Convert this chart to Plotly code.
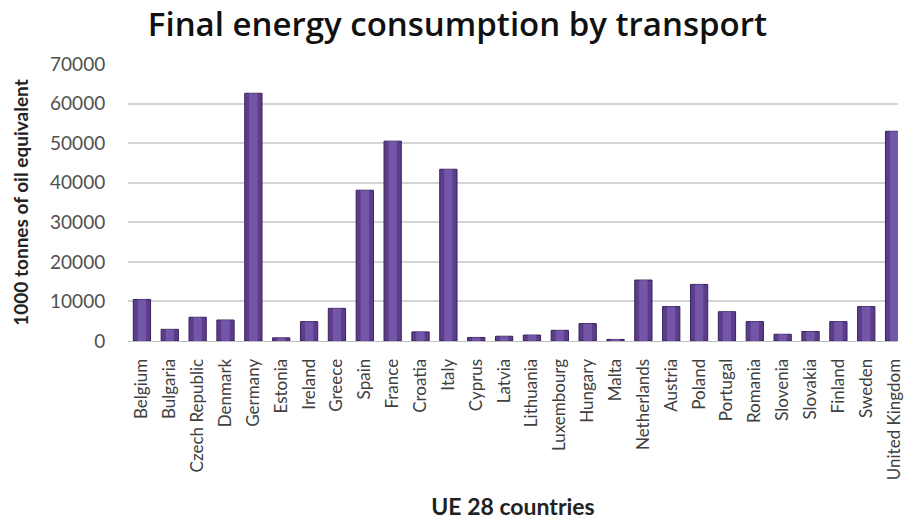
import plotly.graph_objects as go

countries = ["Belgium", "Bulgaria", "Czech Republic", "Denmark", "Germany", "Estonia",
             "Ireland", "Greece", "Spain", "France", "Croatia", "Italy", "Cyprus", "Latvia",
             "Lithuania", "Luxembourg", "Hungary", "Malta", "Netherlands", "Austria",
             "Poland", "Portugal", "Romania", "Slovenia", "Slovakia", "Finland", "Sweden",
             "United Kingdom"]
values = [10500, 2950, 6000, 5300, 62600, 800, 4900, 8250, 38100, 50500, 2300, 43400,
          900, 1200, 1500, 2700, 4400, 400, 15400, 8700, 14300, 7400, 4900, 1700, 2400,
          4900, 8700, 53000]
y_ticks = [0, 10000, 20000, 30000, 40000, 50000, 60000, 70000]

fig = go.Figure()
fig.add_trace(go.Bar(x=countries, y=values, width=0.62,
                     marker=dict(color="#5b3d8c", line=dict(color="#36235a", width=1)),
                     hoverinfo="x+y"))
fig.add_trace(go.Bar(x=countries, y=values, width=0.3,
                     marker=dict(color="#7a5db0", line=dict(width=0)),
                     opacity=0.8, hoverinfo="skip"))

fig.update_layout(
    width=904, height=520,
    margin=dict(l=128, r=0, t=64, b=179),
    paper_bgcolor="white", plot_bgcolor="white",
    barmode="overlay", showlegend=False,
    font=dict(family="Lato, Open Sans, sans-serif", color="#404040"),
    title=dict(text="Final energy consumption by transport",
               x=0.506, xref="container", xanchor="center", y=0.953, yanchor="middle",
               font=dict(size=33, color="#111111", family="Open Sans, Lato, sans-serif",
                         weight=600)),
)
fig.update_xaxes(
    range=[-0.5, 27.14], tickangle=-90, tickfont=dict(size=17, color="#404040"),
    showline=True, linecolor="#bfbfbf", linewidth=1, showgrid=False,
    ticks="outside", ticklen=10, tickcolor="rgba(0,0,0,0)",
    title=dict(text="<b>UE 28 countries</b>", font=dict(size=23, color="#222222"), standoff=20),
)
fig.update_yaxes(
    range=[0, 70000], tickvals=y_ticks, ticktext=[str(v) for v in y_ticks],
    tickfont=dict(size=19, color="#505050"), showgrid=True, gridcolor="#d4d4d4", gridwidth=1.5,
    zeroline=False, ticks="outside", ticklen=18, tickcolor="rgba(0,0,0,0)",
    title=dict(text="<b>1000 tonnes of oil equivalent</b>", font=dict(size=19, color="#222222"), standoff=16),
)
fig.write_html("out.html")
